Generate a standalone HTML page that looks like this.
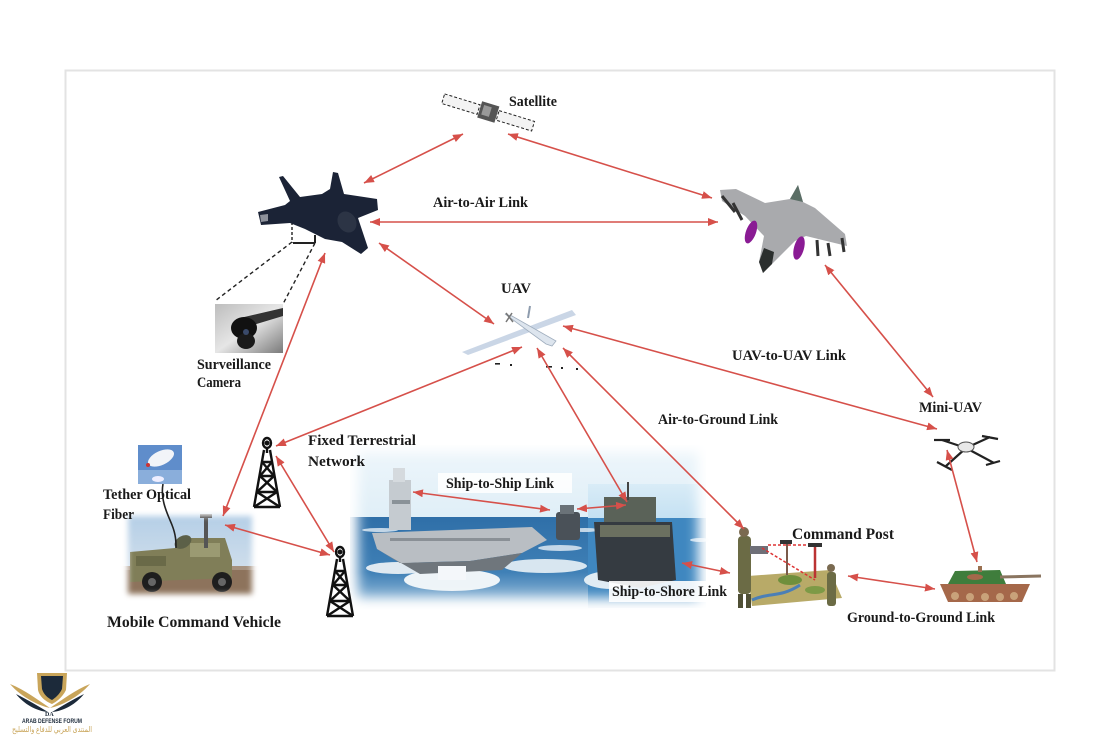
<!DOCTYPE html>
<html><head><meta charset="utf-8"><style>
html,body{margin:0;padding:0;background:#fff;}
svg{display:block;}
text{font-family:"Liberation Serif","DejaVu Serif",serif;font-weight:bold;fill:#1a1a1a;}
</style></head><body>
<svg width="1107" height="737" viewBox="0 0 1107 737" xmlns="http://www.w3.org/2000/svg">
<defs>
  <marker id="ah" viewBox="0 0 10 8" refX="10" refY="4" markerWidth="10" markerHeight="8" markerUnits="userSpaceOnUse" orient="auto-start-reverse">
    <path d="M0,0 L10,4 L0,8 z" fill="#d6504a"/>
  </marker>
  <filter id="bl6" x="-20%" y="-20%" width="140%" height="140%"><feGaussianBlur stdDeviation="6"/></filter>
  <filter id="bl3" x="-20%" y="-20%" width="140%" height="140%"><feGaussianBlur stdDeviation="3"/></filter>
  <mask id="mShip"><rect x="358" y="452" width="340" height="146" fill="#fff" filter="url(#bl6)"/></mask>
  <mask id="mVeh"><rect x="128" y="516" width="124" height="78" fill="#fff" filter="url(#bl3)"/></mask>
  <linearGradient id="gSky" x1="0" y1="0" x2="0" y2="1">
    <stop offset="0" stop-color="#eef6fb"/><stop offset="1" stop-color="#cde5f2"/>
  </linearGradient>
  <linearGradient id="gSea" x1="0" y1="0" x2="0" y2="1">
    <stop offset="0" stop-color="#2f6fa8"/><stop offset="0.6" stop-color="#3f80b6"/><stop offset="1" stop-color="#a9c9e2"/>
  </linearGradient>
  <linearGradient id="gSky2" x1="0" y1="0" x2="0" y2="1">
    <stop offset="0" stop-color="#d9ecf7"/><stop offset="1" stop-color="#8fc3e6"/>
  </linearGradient>
  <linearGradient id="gVsky" x1="0" y1="0" x2="0" y2="1">
    <stop offset="0" stop-color="#b2cde6"/><stop offset="1" stop-color="#dfe7ee"/>
  </linearGradient>
  <linearGradient id="gCam" x1="0" y1="0" x2="1" y2="1">
    <stop offset="0" stop-color="#bdbdbd"/><stop offset="0.5" stop-color="#e6e6e6"/><stop offset="1" stop-color="#7a7a7a"/>
  </linearGradient>
</defs>

<rect width="1107" height="737" fill="#fff"/>
<rect x="65.5" y="70.5" width="989" height="600" fill="#fff" stroke="#e3e3e3" stroke-width="2"/>

<!-- ===== Ship photo ===== -->
<g mask="url(#mShip)">
  <rect x="350" y="445" width="356" height="165" fill="url(#gSky)"/>
  <rect x="350" y="517" width="245" height="92" fill="url(#gSea)"/>
  <rect x="588" y="484" width="118" height="124" fill="url(#gSky2)"/>
  <rect x="588" y="518" width="118" height="90" fill="#3f87c0"/>
  <g fill="#e6eff6" opacity="0.8">
    <ellipse cx="380" cy="530" rx="18" ry="2"/>
    <ellipse cx="560" cy="548" rx="22" ry="3"/>
    <ellipse cx="585" cy="530" rx="14" ry="2"/>
    <ellipse cx="700" cy="540" rx="10" ry="2"/>
  </g>
  <ellipse cx="452" cy="580" rx="48" ry="11" fill="#eef4f8"/>
  <ellipse cx="398" cy="568" rx="32" ry="6" fill="#dfe9f1"/>
  <ellipse cx="545" cy="566" rx="42" ry="7" fill="#d8e6f0"/>
  <ellipse cx="612" cy="580" rx="28" ry="9" fill="#e0ecf4"/>
  <rect x="389" y="480" width="22" height="50" fill="#c5cbd0"/>
  <rect x="393" y="468" width="12" height="14" fill="#d5dade"/>
  <rect x="392" y="500" width="18" height="4" fill="#8a9298"/>
  <polygon points="372,533 532,527 547,540 522,553 470,561 400,563 377,549" fill="#b9bec3"/>
  <polygon points="377,549 400,563 470,561 522,553 502,570 420,574" fill="#6f767c"/>
  <rect x="390" y="538" width="120" height="3" fill="#8a9096"/>
  <rect x="438" y="566" width="28" height="14" fill="#f4f7fa"/>
  <rect x="556" y="512" width="24" height="28" rx="3" fill="#4a5158"/>
  <rect x="560" y="505" width="14" height="9" fill="#6a7278"/>
  <rect x="604" y="497" width="52" height="30" fill="#5a6258"/>
  <polygon points="594,522 672,522 676,580 640,588 598,580" fill="#353b41"/>
  <rect x="600" y="525" width="70" height="12" fill="#6b7060"/>
  <line x1="628" y1="482" x2="628" y2="500" stroke="#444" stroke-width="2"/>
</g>

<!-- ===== Vehicle photo ===== -->
<g mask="url(#mVeh)">
  <rect x="120" y="510" width="140" height="92" fill="url(#gVsky)"/>
  <rect x="120" y="566" width="140" height="36" fill="#8d735c"/>
  <rect x="120" y="566" width="140" height="4" fill="#a69280"/>
  <polygon points="130,552 175,548 185,538 225,538 232,560 232,578 130,582" fill="#807e58"/>
  <rect x="190" y="543" width="30" height="14" fill="#9b9a72"/>
  <rect x="136" y="556" width="30" height="10" fill="#6a6a48"/>
  <circle cx="152" cy="582" r="10" fill="#1e1e1e"/>
  <circle cx="222" cy="582" r="10" fill="#1e1e1e"/>
  <circle cx="152" cy="582" r="4" fill="#666"/>
  <circle cx="222" cy="582" r="4" fill="#666"/>
  <rect x="204" y="516" width="4" height="32" fill="#555"/>
  <rect x="200" y="514" width="12" height="4" fill="#333"/>
  <ellipse cx="183" cy="542" rx="9" ry="6" fill="#5c6048" transform="rotate(-30 183 542)"/>
</g>
<path d="M163,484 C160,500 168,515 172,525 C176,535 176,542 176,548" fill="none" stroke="#222" stroke-width="1.6"/>

<rect x="138" y="445" width="44" height="39" fill="#5f8dcb"/>
<rect x="138" y="470" width="44" height="14" fill="#8aaedb"/>
<ellipse cx="161" cy="458" rx="14" ry="7" fill="#f2f4f8" transform="rotate(-25 161 458)"/>
<circle cx="148" cy="465" r="2" fill="#c33"/>
<ellipse cx="158" cy="479" rx="6" ry="3" fill="#eef"/>

<!-- ===== Towers ===== -->
<g id="tw" fill="none" stroke="#111" stroke-width="2.4">
  <ellipse cx="267" cy="443" rx="4" ry="5"/>
  <circle cx="267" cy="443" r="1.3" fill="#111"/>
  <line x1="267" y1="448" x2="267" y2="453"/>
  <path d="M264,450 L254,507 M270,450 L280,507"/>
  <path d="M262,462 L272,462 M260,476 L274,476 M257,492 L277,492 M254,507 L280,507"/>
  <path d="M262,462 L274,476 M272,462 L260,476 M260,476 L277,492 M274,476 L257,492 M257,492 L280,507 M277,492 L254,507"/>
</g>
<use href="#tw" transform="translate(73,109)"/>

<!-- ===== Surveillance camera ===== -->
<rect x="215" y="304" width="68" height="49" fill="url(#gCam)"/>
<polygon points="240,318 283,308 283,316 250,326" fill="#333"/>
<ellipse cx="244" cy="328" rx="13" ry="11" fill="#111"/>
<ellipse cx="246" cy="341" rx="9" ry="8" fill="#1a1a1a"/>
<circle cx="246" cy="332" r="3" fill="#3a4a6a"/>
<g stroke="#222" stroke-width="1.4" fill="none">
  <line x1="292" y1="242" x2="215" y2="301" stroke-dasharray="4,3"/>
  <line x1="315" y1="243" x2="283" y2="304" stroke-dasharray="4,3"/>
  <line x1="292" y1="222" x2="292" y2="243" stroke-dasharray="3,2"/>
  <line x1="293" y1="243" x2="315" y2="243" stroke-width="2"/>
  <line x1="315" y1="235" x2="315" y2="243" stroke-width="2"/>
</g>

<!-- ===== F-35 ===== -->
<polygon points="258,212 285,205 290,201 279,177 283,176 300,197 322,194 330,189 333,172 338,173 344,194 364,197 377,199 378,210 358,218 368,248 361,254 342,242 325,239 305,229 290,223 261,225" fill="#1b2336"/>
<ellipse cx="347" cy="222" rx="9" ry="11" fill="#2c3445" transform="rotate(-30 347 222)"/>
<polygon points="260,215 268,214 268,221 261,222" fill="#fff" opacity="0.5"/>

<!-- ===== F-16 ===== -->
<polygon points="720,190 736,189 765,203 790,199 798,185 803,202 815,208 845,234 847,246 806,236 795,241 772,264 763,273 759,262 764,236 745,216 722,201" fill="#a9aaad"/>
<polygon points="759,262 763,273 772,264 774,252 764,248" fill="#2b2f2e"/>
<polygon points="790,199 798,185 803,202" fill="#5b6e66"/>
<ellipse cx="751" cy="232" rx="5" ry="12" fill="#8a1b94" transform="rotate(20 751 232)"/>
<ellipse cx="799" cy="248" rx="5" ry="12" fill="#8a1b94" transform="rotate(15 799 248)"/>
<g stroke="#333" stroke-width="3">
  <line x1="722" y1="196" x2="735" y2="212"/>
  <line x1="733" y1="203" x2="742" y2="220"/>
  <line x1="817" y1="240" x2="818" y2="256"/>
  <line x1="828" y1="243" x2="830" y2="256"/>
  <line x1="842" y1="238" x2="844" y2="252"/>
</g>

<!-- ===== Satellite ===== -->
<g transform="rotate(17 486 116)">
  <rect x="440" y="107" width="37" height="10" fill="#f3f3f3" stroke="#222" stroke-width="1" stroke-dasharray="3,2"/>
  <rect x="497" y="107" width="37" height="10" fill="#f3f3f3" stroke="#222" stroke-width="1" stroke-dasharray="3,2"/>
  <rect x="478" y="103" width="18" height="17" fill="#555"/>
  <rect x="481" y="106" width="8" height="10" fill="#999"/>
</g>

<!-- ===== UAV ===== -->
<polygon points="462,352 468,355 576,315 572,310" fill="#cad6e6"/>
<polygon points="505,314 512,316 556,341 552,346 546,344" fill="#dde5ee" stroke="#9fadbd" stroke-width="0.8"/>
<line x1="528" y1="318" x2="530" y2="306" stroke="#8e9cae" stroke-width="2"/>
<line x1="506" y1="313" x2="513" y2="322" stroke="#777" stroke-width="1.5"/>
<line x1="512" y1="313" x2="506" y2="322" stroke="#777" stroke-width="1.5"/>
<g fill="#222">
  <rect x="495" y="363" width="5" height="1.6"/>
  <rect x="510" y="364" width="2" height="2"/>
  <rect x="546" y="366" width="6" height="1.6"/>
  <rect x="561" y="367" width="2" height="2"/>
  <rect x="576" y="368" width="2" height="2"/>
</g>

<!-- ===== Mini-UAV ===== -->
<g stroke="#222" stroke-width="2.2">
  <line x1="966" y1="448" x2="942" y2="440"/>
  <line x1="966" y1="448" x2="990" y2="437"/>
  <line x1="966" y1="448" x2="946" y2="466"/>
  <line x1="966" y1="448" x2="994" y2="463"/>
  <line x1="934" y1="440" x2="950" y2="440"/>
  <line x1="982" y1="436" x2="998" y2="439"/>
  <line x1="937" y1="462" x2="952" y2="470"/>
  <line x1="986" y1="465" x2="1000" y2="461"/>
</g>
<ellipse cx="966" cy="447" rx="8" ry="5" fill="#e8e8e8" stroke="#555" stroke-width="1"/>

<!-- ===== Command post ===== -->
<polygon points="748,576 830,570 842,598 752,606" fill="#b8aa68"/>
<path d="M752,600 C770,592 780,598 800,585" fill="none" stroke="#4b7fb6" stroke-width="3"/>
<ellipse cx="790" cy="580" rx="12" ry="5" fill="#6f8f3c"/>
<ellipse cx="815" cy="590" rx="10" ry="4" fill="#7d9a46"/>
<rect x="738" y="536" width="13" height="58" rx="4" fill="#6b6b45"/>
<circle cx="744" cy="532" r="5" fill="#7a6a50"/>
<rect x="738" y="594" width="5" height="14" fill="#4f4f35"/>
<rect x="746" y="594" width="5" height="14" fill="#4f4f35"/>
<rect x="750" y="546" width="18" height="8" fill="#6f7078"/>
<rect x="827" y="572" width="9" height="34" rx="3" fill="#6b6b45"/>
<circle cx="831" cy="568" r="4" fill="#7a6a50"/>
<line x1="787" y1="543" x2="787" y2="575" stroke="#7a5a4a" stroke-width="2"/>
<line x1="815" y1="545" x2="815" y2="578" stroke="#b33" stroke-width="2.5"/>
<rect x="780" y="540" width="12" height="4" fill="#333"/>
<rect x="808" y="543" width="14" height="4" fill="#333"/>
<line x1="762" y1="548" x2="815" y2="580" stroke="#d33" stroke-width="1.5" stroke-dasharray="3,2"/>
<line x1="768" y1="545" x2="808" y2="545" stroke="#d33" stroke-width="1.5" stroke-dasharray="3,2"/>

<!-- ===== Tank ===== -->
<polygon points="940,584 1030,584 1022,602 948,602" fill="#a5684a"/>
<polygon points="955,571 1000,570 1006,584 948,584" fill="#3f7d3c"/>
<line x1="1000" y1="577" x2="1041" y2="576" stroke="#8a7560" stroke-width="3"/>
<g fill="#c9a27a"><circle cx="955" cy="596" r="4"/><circle cx="970" cy="597" r="4"/><circle cx="985" cy="597" r="4"/><circle cx="1000" cy="597" r="4"/><circle cx="1014" cy="596" r="4"/></g>
<ellipse cx="975" cy="577" rx="8" ry="3" fill="#a5684a"/>
<rect x="978" y="566" width="4" height="6" fill="#9a7050"/>

<rect x="438" y="473" width="134" height="20" fill="#fff" opacity="0.85"/>
<rect x="609" y="581" width="122" height="21" fill="#fff" opacity="0.9"/>

<!-- ===== Arrows ===== -->
<g stroke="#d6504a" stroke-width="1.6" fill="none" marker-start="url(#ah)" marker-end="url(#ah)">
  <line x1="463" y1="134" x2="364" y2="183"/>
  <line x1="508" y1="134" x2="712" y2="198"/>
  <line x1="370" y1="222" x2="718" y2="222"/>
  <line x1="379" y1="243" x2="494" y2="324"/>
  <line x1="563" y1="326" x2="937" y2="429"/>
  <line x1="825" y1="265" x2="933" y2="397"/>
  <line x1="947" y1="450" x2="977" y2="562"/>
  <line x1="848" y1="576" x2="935" y2="589"/>
  <line x1="682" y1="563" x2="730" y2="573"/>
  <line x1="563" y1="348" x2="744" y2="529"/>
  <line x1="537" y1="348" x2="627" y2="502"/>
  <line x1="522" y1="347" x2="276" y2="446"/>
  <line x1="325" y1="253" x2="223" y2="516"/>
  <line x1="276" y1="456" x2="334" y2="552"/>
  <line x1="225" y1="525" x2="330" y2="555"/>
  <line x1="413" y1="492" x2="550" y2="510"/>
  <line x1="577" y1="509" x2="626" y2="505"/>
</g>

<!-- ===== Labels ===== -->
<g font-size="14.5">
  <text x="509" y="106" textLength="48" lengthAdjust="spacingAndGlyphs">Satellite</text>
  <text x="433" y="207" textLength="95" lengthAdjust="spacingAndGlyphs">Air-to-Air Link</text>
  <text x="501" y="293" textLength="30" lengthAdjust="spacingAndGlyphs">UAV</text>
  <text x="732" y="360" textLength="114" lengthAdjust="spacingAndGlyphs">UAV-to-UAV Link</text>
  <text x="197" y="369" textLength="74" lengthAdjust="spacingAndGlyphs">Surveillance</text>
  <text x="197" y="387" textLength="44" lengthAdjust="spacingAndGlyphs">Camera</text>
  <text x="658" y="424" textLength="120" lengthAdjust="spacingAndGlyphs">Air-to-Ground Link</text>
  <text x="919" y="412" textLength="63" lengthAdjust="spacingAndGlyphs">Mini-UAV</text>
  <text x="308" y="445" textLength="108" lengthAdjust="spacingAndGlyphs">Fixed Terrestrial</text>
  <text x="308" y="466" textLength="57" lengthAdjust="spacingAndGlyphs">Network</text>
  <text x="103" y="499" textLength="88" lengthAdjust="spacingAndGlyphs">Tether Optical</text>
  <text x="103" y="519" textLength="31" lengthAdjust="spacingAndGlyphs">Fiber</text>
  <text x="446" y="488" textLength="108" lengthAdjust="spacingAndGlyphs">Ship-to-Ship Link</text>
  <text x="792" y="539" font-size="15.5" textLength="102" lengthAdjust="spacingAndGlyphs">Command Post</text>
  <text x="612" y="596" textLength="115" lengthAdjust="spacingAndGlyphs">Ship-to-Shore Link</text>
  <text x="107" y="627" font-size="15.5" textLength="174" lengthAdjust="spacingAndGlyphs">Mobile Command Vehicle</text>
  <text x="847" y="622" textLength="148" lengthAdjust="spacingAndGlyphs">Ground-to-Ground Link</text>
</g>

<!-- ===== Logo ===== -->
<g>
  <path d="M10,684 C25,690 38,700 50,708 C40,706 22,698 10,684 z" fill="#c9a55a"/>
  <path d="M90,684 C75,690 62,700 50,708 C60,706 78,698 90,684 z" fill="#c9a55a"/>
  <path d="M16,694 C28,700 38,706 48,712 C36,711 24,704 16,694 z" fill="#1c2a3a"/>
  <path d="M84,694 C72,700 62,706 52,712 C64,711 76,704 84,694 z" fill="#1c2a3a"/>
  <path d="M37,673 L67,673 L66,690 C62,698 56,702 52,704 C47,702 40,698 38,690 z" fill="#c9a55a"/>
  <path d="M41,676 L63,676 L62,689 C59,695 55,698 52,700 C48,698 44,695 42,689 z" fill="#1c2a3a"/>
  <text x="45" y="716" font-size="6" style="fill:#1c2a3a">DA</text>
  <text x="22" y="723" font-size="6" textLength="60" lengthAdjust="spacingAndGlyphs" style="fill:#1c2a3a;font-family:'Liberation Sans',sans-serif">ARAB DEFENSE FORUM</text>
  <text x="12" y="732" font-size="8" textLength="80" lengthAdjust="spacingAndGlyphs" style="fill:#c9a55a;font-family:'Liberation Sans','DejaVu Sans',sans-serif;font-weight:normal">المنتدى العربي للدفاع والتسليح</text>
</g>
</svg>
</body></html>
